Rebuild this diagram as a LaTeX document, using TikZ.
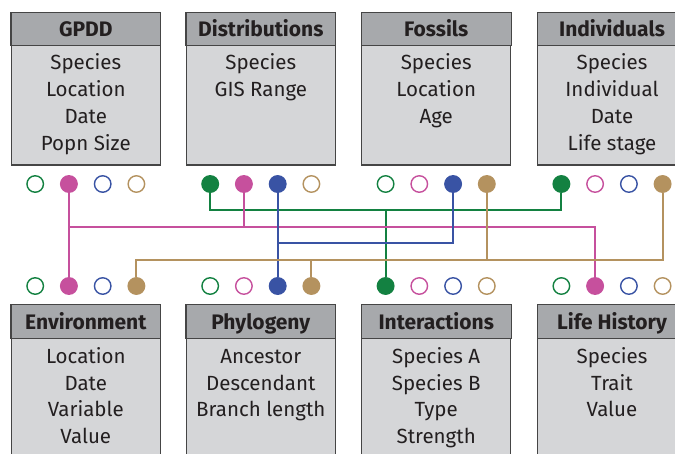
\documentclass[tikz,border=0pt]{standalone}
\usepackage{fontspec}
\setmainfont{Fira Sans}
\definecolor{cgreen}{HTML}{138141}
\definecolor{cpink}{HTML}{C6509D}
\definecolor{cblue}{HTML}{3953A4}
\definecolor{ctan}{HTML}{B4925F}
\definecolor{headgray}{HTML}{A7A9AC}
\definecolor{bodygray}{HTML}{D5D6D8}
\definecolor{edgegray}{HTML}{454545}
\definecolor{inkgray}{HTML}{231F20}

\tikzset{
  tablebox/.style={rectangle, draw=edgegray, line width=1.1pt, fill=bodygray,
    minimum width=148.6pt, minimum height=#1, inner sep=0pt},
  headband/.style={fill=headgray, draw=edgegray, line width=1.1pt},
  title/.style={anchor=base, font=\fontsize{21}{24}\selectfont\bfseries, text=inkgray},
  field/.style={anchor=base, font=\fontsize{20.5}{24}\selectfont, text=inkgray},
  opendot/.style={circle, minimum size=16.5pt, inner sep=0pt, line width=1.4pt,
    draw=#1, fill=white},
  fulldot/.style={opendot=#1, fill=#1},
  wire/.style={draw=#1, line width=2.1pt},
}

\begin{document}
\begin{tikzpicture}[x=1pt,y=-1pt]
\useasboundingbox (0,0) rectangle (675,453);
\clip (0,0) rectangle (675,453);

% column centres
\def\ca{85.8}\def\cb{260.8}\def\cc{436.2}\def\cd{612}

% ---------- upper tables ----------
\foreach \cx/\nm/\ttl/\fa/\fb/\fc/\fd in {
  \ca/gpdd/GPDD/Species/Location/Date/Popn Size,
  \cb/dist/Distributions/Species/GIS Range//,
  \cc/foss/Fossils/Species/Location/Age/,
  \cd/indiv/Individuals/Species/Individual/Date/Life stage}{
  \node[tablebox=152pt] (\nm) at (\cx,89) {};
  \path[headband] (\nm.north west) rectangle ([yshift=-33pt]\nm.north east);
  \node[title] (\nm-t) at (\cx,36.3) {\ttl};
  \node[field] (\nm-1) at (\cx,69.5) {\fa};
  \node[field] (\nm-2) at (\cx,96.5) {\fb};
  \node[field] (\nm-3) at (\cx,123.5) {\fc};
  \node[field] (\nm-4) at (\cx,150.5) {\fd};
}

% ---------- lower tables ----------
\foreach \cx/\nm/\ttl/\fa/\fb/\fc/\fd in {
  \ca/env/Environment/Location/Date/Variable/Value,
  \cb/phylo/Phylogeny/Ancestor/Descendant/Branch length/,
  \cc/inter/Interactions/Species A/Species B/Type/Strength,
  \cd/life/Life History/Species/Trait/Value/}{
  \node[tablebox=170pt] (\nm) at (\cx,390) {};
  \path[headband] (\nm.north west) rectangle ([yshift=-34pt]\nm.north east);
  \node[title] (\nm-t) at (\cx,329.7) {\ttl};
  \node[field] (\nm-1) at (\cx,363.5) {\fa};
  \node[field] (\nm-2) at (\cx,390.2) {\fb};
  \node[field] (\nm-3) at (\cx,416.9) {\fc};
  \node[field] (\nm-4) at (\cx,443.6) {\fd};
}

% ---------- key dots, upper row ----------
\node[opendot=cgreen] (t1g) at (\ca-50.6,184) {};
\node[fulldot=cpink]  (t1p) at (\ca-16.9,184) {};
\node[opendot=cblue]  (t1b) at (\ca+16.9,184) {};
\node[opendot=ctan]   (t1t) at (\ca+50.6,184) {};
\node[fulldot=cgreen] (t2g) at (\cb-50.6,184) {};
\node[fulldot=cpink]  (t2p) at (\cb-16.9,184) {};
\node[fulldot=cblue]  (t2b) at (\cb+16.9,184) {};
\node[opendot=ctan]   (t2t) at (\cb+50.6,184) {};
\node[opendot=cgreen] (t3g) at (\cc-50.6,184) {};
\node[opendot=cpink]  (t3p) at (\cc-16.9,184) {};
\node[fulldot=cblue]  (t3b) at (\cc+16.9,184) {};
\node[fulldot=ctan]   (t3t) at (\cc+50.6,184) {};
\node[fulldot=cgreen] (t4g) at (\cd-50.6,184) {};
\node[opendot=cpink]  (t4p) at (\cd-16.9,184) {};
\node[opendot=cblue]  (t4b) at (\cd+16.9,184) {};
\node[fulldot=ctan]   (t4t) at (\cd+50.6,184) {};

% ---------- key dots, lower row ----------
\node[opendot=cgreen] (b1g) at (\ca-50.6,286) {};
\node[fulldot=cpink]  (b1p) at (\ca-16.9,286) {};
\node[opendot=cblue]  (b1b) at (\ca+16.9,286) {};
\node[fulldot=ctan]   (b1t) at (\ca+50.6,286) {};
\node[opendot=cgreen] (b2g) at (\cb-50.6,286) {};
\node[opendot=cpink]  (b2p) at (\cb-16.9,286) {};
\node[fulldot=cblue]  (b2b) at (\cb+16.9,286) {};
\node[fulldot=ctan]   (b2t) at (\cb+50.6,286) {};
\node[fulldot=cgreen] (b3g) at (\cc-50.6,286) {};
\node[opendot=cpink]  (b3p) at (\cc-16.9,286) {};
\node[opendot=cblue]  (b3b) at (\cc+16.9,286) {};
\node[opendot=ctan]   (b3t) at (\cc+50.6,286) {};
\node[opendot=cgreen] (b4g) at (\cd-50.6,286) {};
\node[fulldot=cpink]  (b4p) at (\cd-16.9,286) {};
\node[opendot=cblue]  (b4b) at (\cd+16.9,286) {};
\node[opendot=ctan]   (b4t) at (\cd+50.6,286) {};

% ---------- routing lanes ----------
\coordinate (laneG) at (0,210);
\coordinate (laneP) at (0,226.7);
\coordinate (laneB) at (0,243.3);
\coordinate (laneT) at (0,260);

% species key (green)
\draw[wire=cgreen] (t2g.south) |- (laneG -| t4g) -- (t4g.south);
\draw[wire=cgreen] (b3g |- laneG) -- (b3g.north);
% location key (pink)
\draw[wire=cpink] (t1p.south) -- (b1p.north);
\draw[wire=cpink] (t1p |- laneP) -| (b4p.north);
\draw[wire=cpink] (t2p.south) -- (t2p |- laneP);
% taxon key (blue)
\draw[wire=cblue] (t2b.south) -- (b2b.north);
\draw[wire=cblue] (t2b |- laneB) -| (t3b.south);
% time key (tan)
\draw[wire=ctan] (b1t.north) |- (laneT -| t4t) -- (t4t.south);
\draw[wire=ctan] (b2t.north) -- (b2t |- laneT);
\draw[wire=ctan] (t3t.south) -- (t3t |- laneT);
\end{tikzpicture}
\end{document}
